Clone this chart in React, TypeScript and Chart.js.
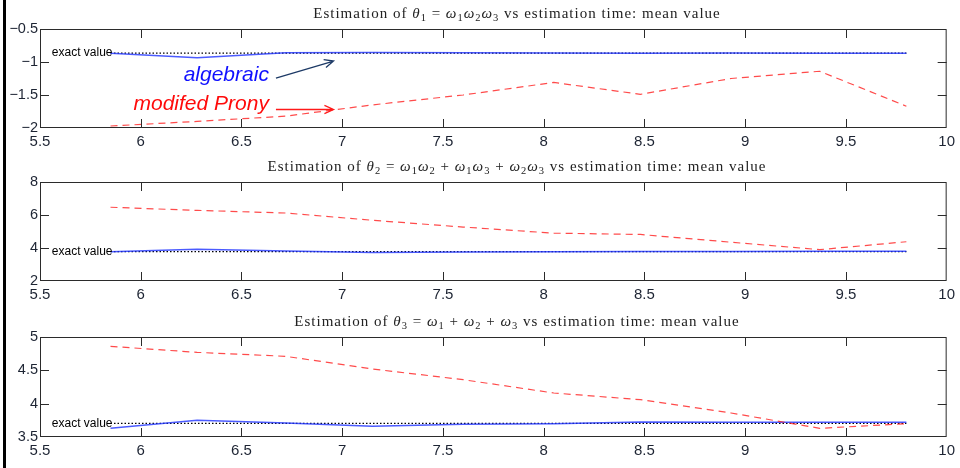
import React, { useEffect, useRef } from "react";
import { Chart, registerables } from "chart.js";

Chart.register(...registerables);

// ---- data ----
const estimationTimes = [5.85, 6.28, 6.72, 7.15, 7.6, 8.05, 8.48, 8.93, 9.37, 9.8];

const theta1Algebraic = [-0.866, -0.935, -0.86, -0.855, -0.86, -0.862, -0.868, -0.864, -0.866, -0.866];
const theta1Prony = [-1.97, -1.9, -1.82, -1.65, -1.5, -1.31, -1.49, -1.25, -1.14, -1.67];

const theta2Algebraic = [3.77, 3.93, 3.82, 3.72, 3.76, 3.78, 3.79, 3.79, 3.8, 3.8];
const theta2Prony = [6.47, 6.28, 6.12, 5.68, 5.27, 4.9, 4.82, 4.35, 3.9, 4.38];

const theta3Algebraic = [3.63, 3.75, 3.71, 3.66, 3.69, 3.7, 3.725, 3.72, 3.72, 3.72];
const theta3Prony = [4.86, 4.77, 4.71, 4.52, 4.36, 4.16, 4.06, 3.86, 3.63, 3.7];

const exactValues = [-0.865, 3.78, 3.705];

const xTickValues = [5.5, 6, 6.5, 7, 7.5, 8, 8.5, 9, 9.5, 10];
const yTicks1 = [-2, -1.5, -1, -0.5];
const yTicks2 = [2, 4, 6, 8];
const yTicks3 = [3.5, 4, 4.5, 5];

const titles = [
  "Estimation of θ_1 = ω_1ω_2ω_3 vs estimation time: mean value",
  "Estimation of θ_2 = ω_1ω_2 + ω_1ω_3 + ω_2ω_3 vs estimation time: mean value",
  "Estimation of θ_3 = ω_1 + ω_2 + ω_3 vs estimation time: mean value",
];

const algebraicSeries = [theta1Algebraic, theta2Algebraic, theta3Algebraic];
const pronySeries = [theta1Prony, theta2Prony, theta3Prony];
const yTickSets = [yTicks1, yTicks2, yTicks3];

// ---- layout / style ----
const layouts = [
  { height: 152, top: 29, xAxisHeight: 24 },
  { height: 154, top: 30, xAxisHeight: 25 },
  { height: 162, top: 31, xAxisHeight: 31 },
];

const SANS = '"Liberation Sans", Arial, sans-serif';
const SERIF = '"Liberation Serif", "Times New Roman", serif';
const TICK_COLOR = "#1d2433";

function drawRich(ctx: CanvasRenderingContext2D, text: string, cx: number, baseline: number, size: number, spacing: number) {
  const parts: { t: string; font: string; dy: number }[] = [];
  for (let i = 0; i < text.length; i++) {
    const ch = text[i];
    if (ch === "_") {
      const s = text[++i];
      parts.push({ t: s, font: `${size * 0.7}px ${SERIF}`, dy: size * 0.22 });
    } else if ("θω".includes(ch)) {
      parts.push({ t: ch, font: `italic ${size}px ${SERIF}`, dy: 0 });
    } else {
      parts.push({ t: ch, font: `${size}px ${SERIF}`, dy: 0 });
    }
  }
  let total = 0;
  const widths = parts.map((p) => {
    ctx.font = p.font;
    const w = ctx.measureText(p.t).width + spacing;
    total += w;
    return w;
  });
  let x = cx - total / 2;
  ctx.textAlign = "left";
  ctx.textBaseline = "alphabetic";
  parts.forEach((p, i) => {
    ctx.font = p.font;
    ctx.fillText(p.t, x, baseline + p.dy);
    x += widths[i];
  });
}

function drawArrow(ctx: CanvasRenderingContext2D, x0: number, y0: number, x1: number, y1: number, color: string) {
  const ang = Math.atan2(y1 - y0, x1 - x0);
  const head = 10;
  const spread = 0.42;
  ctx.save();
  ctx.strokeStyle = color;
  ctx.lineWidth = 1.3;
  ctx.beginPath();
  ctx.moveTo(x0, y0);
  ctx.lineTo(x1, y1);
  ctx.moveTo(x1 - head * Math.cos(ang - spread), y1 - head * Math.sin(ang - spread));
  ctx.lineTo(x1, y1);
  ctx.lineTo(x1 - head * Math.cos(ang + spread), y1 - head * Math.sin(ang + spread));
  ctx.stroke();
  ctx.restore();
}

function makePanelPlugin(index: number) {
  return {
    id: "panelDecor" + index,
    afterDraw(chart: any) {
      const { ctx, chartArea: a, scales } = chart;
      const xs = scales.x;
      const ys = scales.y;
      ctx.save();
      // frame
      ctx.strokeStyle = "#2b2b2b";
      ctx.lineWidth = 1;
      ctx.strokeRect(a.left + 0.5, a.top + 0.5, a.right - a.left - 1, a.bottom - a.top - 1);
      // inward ticks
      const tl = 9;
      ctx.beginPath();
      xTickValues.forEach((v) => {
        const px = Math.round(xs.getPixelForValue(v)) + 0.5;
        if (px <= a.left + 1 || px >= a.right - 1) return;
        ctx.moveTo(px, a.top);
        ctx.lineTo(px, a.top + tl);
        ctx.moveTo(px, a.bottom);
        ctx.lineTo(px, a.bottom - tl);
      });
      yTickSets[index].forEach((v) => {
        const py = Math.round(ys.getPixelForValue(v)) + 0.5;
        if (py <= a.top + 1 || py >= a.bottom - 1) return;
        ctx.moveTo(a.left, py);
        ctx.lineTo(a.left + tl, py);
        ctx.moveTo(a.right, py);
        ctx.lineTo(a.right - tl, py);
      });
      ctx.stroke();

      // title
      ctx.fillStyle = "#222";
      drawRich(ctx, titles[index], 517, a.top - 11, 15, 1);

      // exact value label
      ctx.fillStyle = "#000";
      ctx.font = `12px ${SANS}`;
      ctx.textAlign = "right";
      ctx.textBaseline = "middle";
      ctx.fillText(
        "exact value",
        xs.getPixelForValue(estimationTimes[0]) + 2,
        ys.getPixelForValue(exactValues[index])
      );

      if (index === 0) {
        ctx.font = `italic 21px ${SANS}`;
        ctx.textAlign = "right";
        ctx.textBaseline = "alphabetic";
        ctx.fillStyle = "#1010ff";
        ctx.fillText("algebraic", xs.getPixelForValue(6.636), ys.getPixelForValue(-1.285));
        ctx.fillStyle = "#ff0a0a";
        ctx.fillText("modifed Prony", xs.getPixelForValue(6.636), ys.getPixelForValue(-1.727));
        drawArrow(
          ctx,
          xs.getPixelForValue(6.671),
          ys.getPixelForValue(-1.245),
          xs.getPixelForValue(6.957),
          ys.getPixelForValue(-0.985),
          "#1d3a66"
        );
        drawArrow(
          ctx,
          xs.getPixelForValue(6.671),
          ys.getPixelForValue(-1.72),
          xs.getPixelForValue(6.957),
          ys.getPixelForValue(-1.72),
          "#ff1a1a"
        );
      }
      ctx.restore();
    },
  };
}

function Panel({ index }: { index: number }) {
  const ref = useRef<HTMLCanvasElement | null>(null);
  const lay = layouts[index];
  useEffect(() => {
    if (!ref.current) return;
    const yTicks = yTickSets[index];
    const exact = exactValues[index];
    const chart = new Chart(ref.current, {
      type: "line",
      data: {
        datasets: [
          {
            label: "modifed Prony",
            data: estimationTimes.map((x, i) => ({ x, y: pronySeries[index][i] })),
            borderColor: "rgba(255,30,30,0.8)",
            borderWidth: 1.2,
            borderDash: [7, 5],
            pointRadius: 0,
            tension: 0,
          },
          {
            label: "algebraic",
            data: estimationTimes.map((x, i) => ({ x, y: algebraicSeries[index][i] })),
            borderColor: "rgba(30,50,255,0.8)",
            borderWidth: 1.5,
            pointRadius: 0,
            tension: 0,
          },
          {
            label: "exact value",
            data: [
              { x: estimationTimes[0], y: exact },
              { x: estimationTimes[estimationTimes.length - 1], y: exact },
            ],
            borderColor: "#000",
            borderWidth: 1.2,
            borderDash: [1.5, 2],
            pointRadius: 0,
          },
        ],
      },
      options: {
        animation: false,
        responsive: false,
        devicePixelRatio: 1,
        layout: { padding: { left: 0, right: 3, top: lay.top, bottom: 0 } },
        plugins: { legend: { display: false }, title: { display: false }, tooltip: { enabled: false } },
        scales: {
          x: {
            type: "linear",
            min: 5.5,
            max: 10,
            grid: { display: false, drawTicks: false },
            border: { display: false },
            afterBuildTicks: (s: any) => {
              s.ticks = xTickValues.map((v) => ({ value: v }));
            },
            afterFit: (s: any) => {
              s.height = lay.xAxisHeight;
            },
            ticks: {
              autoSkip: false,
              maxRotation: 0,
              padding: 5,
              color: TICK_COLOR,
              font: { family: SANS, size: 15 },
              callback: (v: any) => String(v),
            },
          },
          y: {
            type: "linear",
            min: yTicks[0],
            max: yTicks[yTicks.length - 1],
            grid: { display: false, drawTicks: false },
            border: { display: false },
            afterBuildTicks: (s: any) => {
              s.ticks = yTicks.map((v) => ({ value: v }));
            },
            afterFit: (s: any) => {
              s.width = 40;
            },
            ticks: {
              autoSkip: false,
              padding: 2,
              color: TICK_COLOR,
              font: { family: SANS, size: 14.5 },
              callback: (v: any) => String(v).replace("-", "\u2212"),
            },
          },
        },
      },
      plugins: [makePanelPlugin(index)],
    });
    return () => chart.destroy();
  }, [index]);
  return <canvas ref={ref} width={960} height={lay.height} style={{ display: "block" }} />;
}

export default function App() {
  useEffect(() => {
    document.body.style.margin = "0";
  }, []);
  return (
    <div style={{ position: "relative", width: 960, height: 468, background: "#fff", overflow: "hidden" }}>
      <div style={{ position: "absolute", left: 3, top: 0, width: 3, height: 468, background: "#000" }} />
      {layouts.map((_, i) => (
        <Panel key={i} index={i} />
      ))}
    </div>
  );
}
